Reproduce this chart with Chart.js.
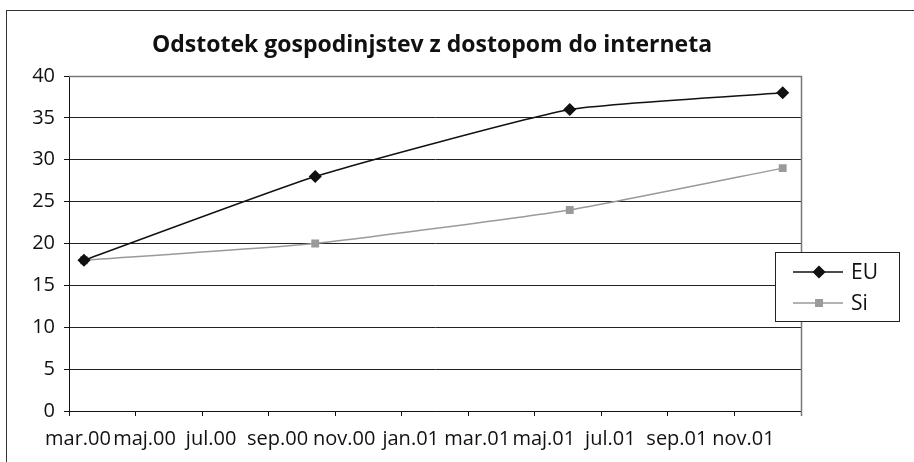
<!DOCTYPE html>
<html>
<head>
<meta charset="utf-8">
<script src="https://cdn.jsdelivr.net/npm/chart.js@4.4.1/dist/chart.umd.min.js"></script>
<style>
  html, body { margin: 0; padding: 0; background: #fff; }
  #wrap { width: 914px; height: 462px; }
</style>
</head>
<body>
<div id="wrap"><canvas id="chart" width="914" height="462"></canvas></div>
<script>
  const chartTitle = 'Odstotek gospodinjstev z dostopom do interneta';
  const monthLabels = ['mar.00', 'maj.00', 'jul.00', 'sep.00', 'nov.00', 'jan.01', 'mar.01', 'maj.01', 'jul.01', 'sep.01', 'nov.01'];
  // survey dates, in months counted from march 2000
  const surveyMonths = [0.45, 7.4, 15.05, 21.45];
  const euValues = [18, 28, 36, 38];
  const siValues = [18, 20, 24, 29];
  const seriesNames = ['EU', 'Si'];

  const FONT = "'Open Sans', sans-serif";

  function toPoints(vals) {
    return vals.map((v, i) => ({ x: surveyMonths[i], y: v }));
  }

  // frame, title, plot border and the legend box
  const decorPlugin = {
    id: 'decor',
    beforeDraw(chart) {
      const ctx = chart.ctx;
      ctx.save();
      ctx.fillStyle = '#fff';
      ctx.fillRect(0, 0, chart.width, chart.height);
      ctx.strokeStyle = '#333';
      ctx.lineWidth = 1;
      ctx.strokeRect(6.5, 10.5, 2000, 2000);
      ctx.restore();
    },
    afterDraw(chart) {
      const ctx = chart.ctx;
      const a = chart.chartArea;
      ctx.save();
      // plot border top / right
      ctx.strokeStyle = '#777';
      ctx.lineWidth = 1.5;
      ctx.beginPath();
      ctx.moveTo(a.left, a.top + 0.5);
      ctx.lineTo(a.right + 0.5, a.top + 0.5);
      ctx.lineTo(a.right + 0.5, a.bottom + 5);
      ctx.stroke();

      // title
      ctx.fillStyle = '#111';
      ctx.font = 'bold 23px ' + FONT;
      ctx.textAlign = 'center';
      ctx.textBaseline = 'middle';
      ctx.fillText(chartTitle, 432, 45);

      // legend
      const lx = 775, ly = 252, lw = 124, lh = 69;
      ctx.fillStyle = '#fff';
      ctx.fillRect(lx, ly, lw, lh);
      ctx.strokeStyle = '#222';
      ctx.lineWidth = 1;
      ctx.strokeRect(lx + 0.5, ly + 0.5, lw, lh);
      chart.data.datasets.forEach((ds, i) => {
        const y = 272 + i * 31;
        ctx.strokeStyle = ds.borderColor;
        ctx.lineWidth = ds.borderWidth;
        ctx.beginPath();
        ctx.moveTo(793, y);
        ctx.lineTo(843, y);
        ctx.stroke();
        Chart.helpers.drawPoint(ctx, {
          pointStyle: ds.pointStyle,
          radius: ds.pointRadius,
          borderWidth: 1
        }, 819, y);
        ctx.fillStyle = ds.pointBackgroundColor;
        ctx.fill();
        ctx.fillStyle = '#111';
        ctx.font = '21px ' + FONT;
        ctx.textAlign = 'left';
        ctx.textBaseline = 'middle';
        ctx.fillText(ds.label, 851, y + 1);
      });
      ctx.restore();
    }
  };

  new Chart(document.getElementById('chart'), {
    type: 'line',
    data: {
      datasets: [{
        label: seriesNames[0],
        data: toPoints(euValues),
        borderColor: '#111',
        borderWidth: 1.5,
        pointStyle: 'rectRot',
        pointRadius: 5.5,
        pointBackgroundColor: '#111',
        pointBorderColor: '#111',
        tension: 0.15
      }, {
        label: seriesNames[1],
        data: toPoints(siValues),
        borderColor: '#9a9a9a',
        borderWidth: 1.5,
        pointStyle: 'rect',
        pointRadius: 4.5,
        pointBackgroundColor: '#9a9a9a',
        pointBorderColor: '#9a9a9a',
        tension: 0.15
      }]
    },
    options: {
      responsive: false,
      devicePixelRatio: 1,
      animation: false,
      layout: { padding: { left: 0, right: 113, top: 76, bottom: 0 } },
      plugins: {
        legend: { display: false },
        title: { display: false },
        tooltip: { enabled: false }
      },
      scales: {
        x: {
          type: 'linear',
          min: 0,
          max: 22,
          afterFit: s => { s.height = 51; },
          afterBuildTicks: s => {
            s.ticks = [];
            for (let v = 0; v <= 22; v += 2) s.ticks.push({ value: v });
          },
          grid: { drawOnChartArea: false, drawTicks: true, tickLength: 5, tickColor: '#111' },
          border: { color: '#111', width: 1 },
          ticks: {
            autoSkip: false,
            maxRotation: 0,
            padding: 11,
            labelOffset: 9,
            color: '#111',
            font: { family: FONT, size: 20 },
            callback: v => monthLabels[v / 2] || ''
          }
        },
        y: {
          min: 0,
          max: 40,
          afterFit: s => { s.width = 69; },
          grid: { color: '#222', lineWidth: 1, drawTicks: true, tickLength: 5, tickColor: '#111' },
          border: { color: '#111', width: 1 },
          ticks: {
            stepSize: 5,
            padding: 9,
            color: '#111',
            font: { family: FONT, size: 20 }
          }
        }
      }
    },
    plugins: [decorPlugin]
  });
</script>
</body>
</html>
